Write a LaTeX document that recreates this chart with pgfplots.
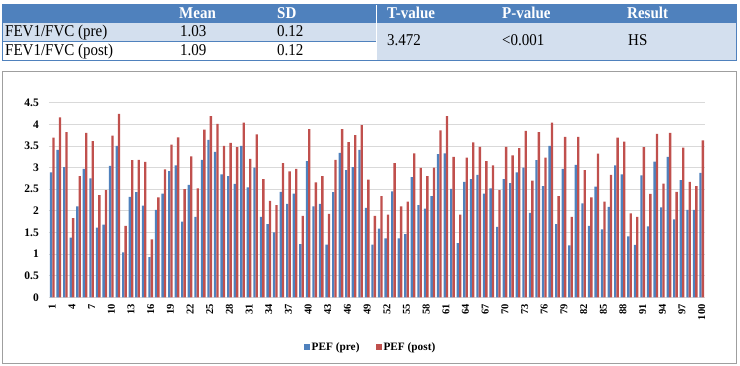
\documentclass[border=0pt]{standalone}
\usepackage{fontspec}
\setmainfont{Liberation Serif}
\usepackage{pgfplots}
\usepackage{pgfplotstable}
\pgfplotsset{compat=1.18}

\definecolor{hdrblue}{HTML}{4F81BD}
\definecolor{rowblue}{HTML}{D3DFEE}
\definecolor{prebar}{HTML}{4F81BD}
\definecolor{postbar}{HTML}{C0504D}

% PEF per subject, before and after
\pgfplotstableread{
idx pre post
1 2.89 3.69
2 3.41 4.16
3 3.01 3.82
4 1.38 1.83
5 2.10 2.80
6 2.97 3.80
7 2.75 3.61
8 1.61 2.36
9 1.68 2.48
10 3.04 3.74
11 3.50 4.24
12 1.04 1.65
13 2.32 3.17
14 2.43 3.18
15 2.12 3.13
16 0.93 1.34
17 2.02 2.31
18 2.40 2.96
19 2.92 3.53
20 3.05 3.70
21 1.75 2.50
22 2.60 3.26
23 1.86 2.52
24 3.18 3.88
25 3.64 4.19
26 3.36 4.01
27 2.84 3.50
28 2.80 3.57
29 2.62 3.47
30 3.50 4.04
31 2.54 3.20
32 3.00 3.77
33 1.86 2.73
34 1.69 2.23
35 1.50 2.13
36 2.44 3.10
37 2.16 2.91
38 2.40 2.97
39 1.23 1.88
40 3.15 3.89
41 2.10 2.66
42 2.16 2.80
43 1.22 1.93
44 2.43 3.18
45 3.34 3.89
46 2.94 3.59
47 3.01 3.75
48 3.41 3.98
49 2.07 2.72
50 1.22 1.88
51 1.59 2.34
52 1.36 1.91
53 2.45 3.10
54 1.36 2.10
55 1.46 2.21
56 2.78 3.33
57 2.13 2.99
58 2.05 2.80
59 2.34 3.00
60 3.31 3.86
61 3.33 4.19
62 2.51 3.25
63 1.25 1.91
64 2.67 3.23
65 2.73 3.58
66 2.83 3.48
67 2.40 3.15
68 2.52 3.05
69 1.63 2.48
70 2.73 3.48
71 2.64 3.28
72 2.89 3.45
73 3.00 3.85
74 1.95 2.70
75 3.17 3.82
76 2.57 3.23
77 3.50 4.04
78 1.69 2.34
79 2.97 3.71
80 1.20 1.86
81 3.06 3.71
82 2.17 2.94
83 1.65 2.31
84 2.56 3.32
85 1.57 2.21
86 2.09 2.83
87 3.05 3.69
88 2.84 3.60
89 1.41 1.94
90 1.21 1.86
91 2.82 3.47
92 1.64 2.39
93 3.14 3.78
94 2.08 2.63
95 3.25 3.80
96 1.80 2.44
97 2.71 3.46
98 2.02 2.67
99 2.02 2.57
100 2.88 3.63
}\pefdata

\begin{document}
\begin{tikzpicture}[x=1pt,y=1pt]
\path[use as bounding box] (0,0) rectangle (740,366);

% ---- summary table ----
\fill[hdrblue] (2,343) rectangle (736,362);
\fill[rowblue] (2,324.5) rectangle (376,343);
\fill[white] (2,306) rectangle (376,324.5);
\fill[rowblue] (376,306) rectangle (736,343);
\draw[hdrblue, line width=1.2pt] (2,324.5) -- (376,324.5);
\draw[white, line width=0.8pt] (376,306) -- (376,362);
\draw[hdrblue, line width=0.8pt] (2,306) rectangle (736,362);

\begin{scope}[every node/.style={inner sep=0pt, anchor=base west, yscale=1.1, font=\fontsize{15}{17}\selectfont}]
  \node[text=white, font=\fontsize{15}{17}\selectfont\bfseries] at (179,347) {Mean};
  \node[text=white, font=\fontsize{15}{17}\selectfont\bfseries] at (277,347) {SD};
  \node[text=white, font=\fontsize{15}{17}\selectfont\bfseries] at (387,347) {T-value};
  \node[text=white, font=\fontsize{15}{17}\selectfont\bfseries] at (502,347) {P-value};
  \node[text=white, font=\fontsize{15}{17}\selectfont\bfseries] at (627,347) {Result};
  \node at (5,329) {FEV1/FVC (pre)};
  \node at (180,329) {1.03};
  \node at (277,329) {0.12};
  \node at (5,310) {FEV1/FVC (post)};
  \node at (180,310) {1.09};
  \node at (277,310) {0.12};
  \node at (387,320) {3.472};
  \node at (502,320) {<0.001};
  \node at (628,320) {HS};
\end{scope}

% ---- chart frame ----
\draw[gray!75, line width=0.8pt] (2,3) rectangle (736,295);

\begin{axis}[
  at={(49pt,68.7pt)}, anchor=south west,
  scale only axis, width=656pt, height=194.6pt,
  ybar, bar width=2.35pt,
  xmin=0.5, xmax=100.5, ymin=0, ymax=4.5,
  enlargelimits=false,
  ytick={0,0.5,1,1.5,2,2.5,3,3.5,4,4.5},
  yticklabels={0,0.5,1,1.5,2,2.5,3,3.5,4,4.5},
  xtick={1,4,7,10,13,16,19,22,25,28,31,34,37,40,43,46,49,52,55,58,61,64,67,70,73,76,79,82,85,88,91,94,97,100},
  xticklabels={1,4,7,10,13,16,19,22,25,28,31,34,37,40,43,46,49,52,55,58,61,64,67,70,73,76,79,82,85,88,91,94,97,100},
  ymajorgrids, grid style={draw=gray!30, line width=0.8pt},
  axis line style={draw=none},
  tick style={draw=none}, major tick length=0pt,
  yticklabel style={font=\fontsize{11.5}{13}\selectfont\bfseries, inner sep=0pt, xshift=-10pt},
  xticklabel style={rotate=90, anchor=east, font=\fontsize{10.5}{12}\selectfont\bfseries, inner sep=0pt, xshift=-7pt},
  legend style={at={(axis description cs:0.5,0)}, anchor=center, yshift=-49.7pt, xshift=-6.5pt,
    draw=none, fill=none, font=\fontsize{11.3}{13}\selectfont\bfseries,
    /tikz/every even column/.append style={column sep=14pt}},
  legend columns=2,
]
\addplot[fill=prebar, draw=none, bar shift=-1.175pt,
  legend image code/.code={\fill[prebar] (0pt,-3pt) rectangle (6pt,3pt);}]
  table[x=idx, y=pre] {\pefdata};
\addplot[fill=postbar, draw=none, bar shift=1.175pt,
  legend image code/.code={\fill[postbar] (0pt,-3pt) rectangle (6pt,3pt);}]
  table[x=idx, y=post] {\pefdata};
\legend{PEF (pre), PEF (post)}
\end{axis}
\end{tikzpicture}
\end{document}
